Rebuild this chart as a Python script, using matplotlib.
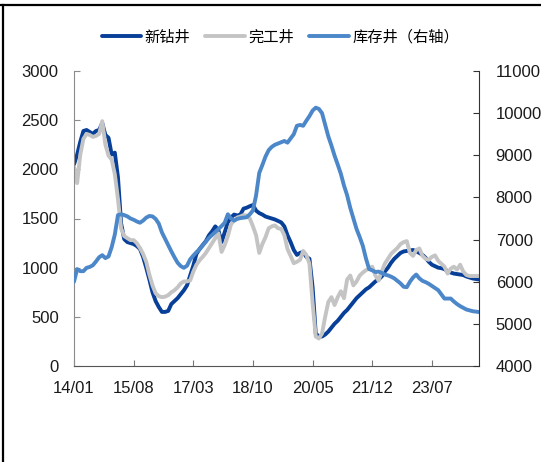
import numpy as np
import matplotlib
matplotlib.use("Agg")
import matplotlib.pyplot as plt
from matplotlib.lines import Line2D

# monthly data, 2014-01 .. 2024-10
drilled = [2050, 2150, 2280, 2390, 2400, 2380, 2360, 2390, 2400, 2470,
           2350, 2320, 2150, 2170, 1920, 1450, 1290, 1260, 1250, 1240,
           1220, 1190, 1110, 1000, 880, 750, 660, 600, 550, 550,
           560, 630, 660, 690, 730, 770, 820, 920, 1020, 1140,
           1190, 1230, 1270, 1330, 1370, 1420, 1380, 1260, 1360, 1460,
           1510, 1540, 1530, 1540, 1600, 1610, 1625, 1637, 1580, 1555,
           1540, 1520, 1510, 1500, 1490, 1475, 1460, 1420, 1330, 1260,
           1180, 1130, 1150, 1160, 1110, 1090, 800, 330, 300, 300,
           320, 350, 390, 430, 460, 500, 540, 570, 610, 650,
           690, 720, 750, 780, 800, 830, 860, 880, 910, 960,
           1000, 1050, 1090, 1120, 1150, 1165, 1170, 1175, 1180, 1165,
           1150, 1130, 1100, 1060, 1030, 1015, 1000, 995, 985, 965,
           950, 940, 935, 930, 925, 910, 900, 890, 885, 880]

completed = [2030, 1860, 2150, 2310, 2360, 2350, 2330, 2340, 2360, 2490,
             2250, 2140, 2100, 1950, 1700, 1400, 1320, 1300, 1280, 1280,
             1250, 1200, 1140, 1060, 930, 820, 740, 710, 700, 705,
             720, 750, 770, 800, 840, 860, 860, 870, 960, 1030,
             1075, 1110, 1150, 1200, 1250, 1300, 1350, 1160, 1230, 1320,
             1440, 1480, 1510, 1520, 1535, 1530, 1500, 1420, 1330, 1150,
             1240, 1310, 1400, 1420, 1430, 1400, 1395, 1330, 1190, 1120,
             1045, 1060, 1080, 1170, 1130, 1040, 640, 300, 280, 330,
             500, 650, 700, 620, 700, 760, 690, 880, 920, 820,
             860, 920, 950, 975, 990, 1010, 920, 870, 960, 1040,
             1090, 1140, 1170, 1200, 1240, 1260, 1270, 1150, 1120, 1180,
             1195, 1120, 1090, 1080, 1110, 1125, 1070, 1040, 1010, 940,
             990, 1010, 980, 1030, 960, 925, 915, 915, 915, 915]

inventory = [6000, 6300, 6250, 6250, 6330, 6350, 6390, 6480, 6580, 6630,
             6560, 6600, 6820, 7120, 7580, 7600, 7580, 7550, 7500, 7470,
             7430, 7400, 7450, 7520, 7560, 7550, 7490, 7380, 7170, 7020,
             6870, 6720, 6580, 6450, 6370, 6330, 6380, 6530, 6620, 6700,
             6770, 6860, 6950, 7040, 7110, 7180, 7250, 7320, 7400, 7600,
             7500, 7450, 7490, 7510, 7520, 7530, 7600, 7690, 8050, 8580,
             8770, 8970, 9120, 9200, 9250, 9280, 9310, 9340, 9300, 9400,
             9500, 9700, 9720, 9700, 9820, 9930, 10060, 10130, 10100, 10000,
             9720, 9450, 9230, 8990, 8780, 8560, 8280, 8050, 7750, 7500,
             7250, 7060, 6850, 6550, 6300, 6270, 6230, 6240, 6210, 6170,
             6150, 6120, 6080, 6020, 5960, 5880, 5870, 6000, 6100, 6170,
             6080, 6020, 5990, 5950, 5900, 5850, 5800, 5700, 5600, 5600,
             5600, 5530, 5470, 5420, 5380, 5340, 5320, 5300, 5290, 5280]

tick_labels = ["14/01", "15/08", "17/03", "18/10", "20/05", "21/12", "23/07"]
labels = ["新钻井", "完工井", "库存井（右轴）"]

months = np.arange(len(drilled))

fig = plt.figure(figsize=(5.41, 4.62), dpi=100)
ax = fig.add_axes([74 / 541, 96 / 462, 405 / 541, 295 / 462])

l1, = ax.plot(months, drilled, color="#083f98", lw=2.8, solid_capstyle="round")
l2, = ax.plot(months, completed, color="#c4c4c4", lw=2.8, solid_capstyle="round")
ax.set_xlim(0, 129)
ax.set_ylim(0, 3000)
ax.set_yticks(range(0, 3001, 500))
ax.set_xticks(np.arange(len(tick_labels)) * 19)
ax.set_xticklabels(tick_labels)

ax2 = ax.twinx()
l3, = ax2.plot(months, inventory, color="#4b87c9", lw=2.8, solid_capstyle="round")
ax2.set_ylim(4000, 11000)
ax2.set_yticks(range(4000, 11001, 1000))

for s in ["top", "right"]:
    ax.spines[s].set_visible(False)
for s in ["top", "left", "bottom"]:
    ax2.spines[s].set_visible(False)
ax.spines["left"].set_color("#8c8c8c")
ax.spines["bottom"].set_color("#555555")
ax2.spines["right"].set_color("#333333")

tick_font = "Liberation Sans"
ax.tick_params(axis="y", direction="in", length=4.5, pad=11, labelsize=12,
               color="#8c8c8c", labelcolor="#1a1a1a")
ax.tick_params(axis="x", direction="in", length=4.5, pad=11, labelsize=12,
               color="#777777", labelcolor="#1a1a1a")
ax2.tick_params(axis="y", direction="in", length=4.5, pad=12, labelsize=12,
                color="#333333", labelcolor="#1a1a1a")
for t in ax.get_xticklabels() + ax.get_yticklabels() + ax2.get_yticklabels():
    t.set_family(tick_font)

fig.legend([l1, l2, l3], labels, loc="center", bbox_to_anchor=(0.518, 0.92),
           ncol=3, frameon=False, handlelength=2.6, columnspacing=1.0,
           handletextpad=0.2,
           prop={"family": ["Noto Sans CJK SC", "DejaVu Sans"], "size": 11})

# page border lines (left and top)
fig.add_artist(Line2D([3 / 541, 3 / 541], [0, 1 - 5 / 462], color="black", lw=1.6))
fig.add_artist(Line2D([0, 1], [1 - 5 / 462, 1 - 5 / 462], color="black", lw=1.6))

fig.savefig("out.png", dpi=100)
